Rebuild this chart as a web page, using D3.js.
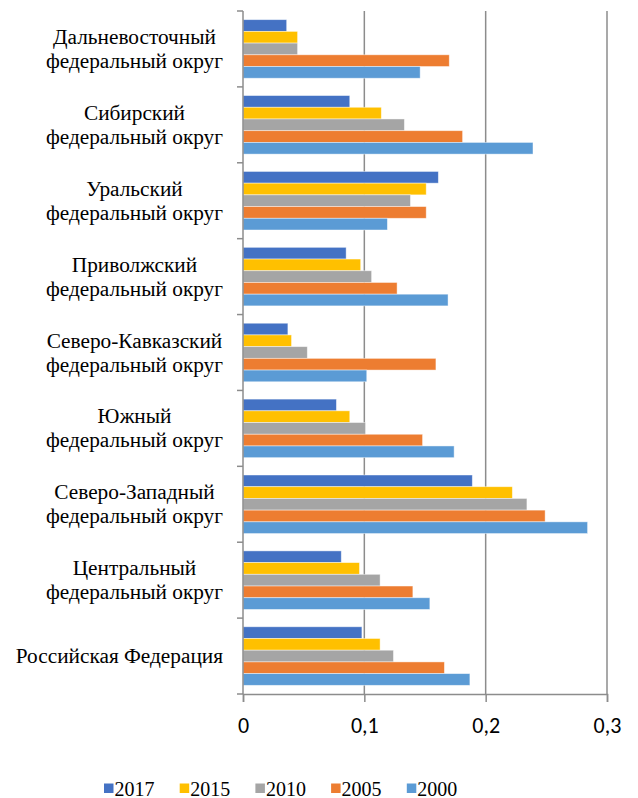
<!DOCTYPE html>
<html>
<head>
<meta charset="utf-8">
<script src="https://cdn.jsdelivr.net/npm/d3@7"></script>
<style>
  html, body { margin: 0; padding: 0; background: #fff; }
  svg { display: block; }
</style>
</head>
<body>
<svg id="chart" width="638" height="798"></svg>
<script>
// Federal districts, listed top to bottom
const categories = [
  "Дальневосточный федеральный округ",
  "Сибирский федеральный округ",
  "Уральский федеральный округ",
  "Приволжский федеральный округ",
  "Северо-Кавказский федеральный округ",
  "Южный федеральный округ",
  "Северо-Западный федеральный округ",
  "Центральный федеральный округ",
  "Российская Федерация"
];

// Label lines for each category
const labelLines = [
  ["Дальневосточный", "федеральный округ"],
  ["Сибирский", "федеральный округ"],
  ["Уральский", "федеральный округ"],
  ["Приволжский", "федеральный округ"],
  ["Северо-Кавказский", "федеральный округ"],
  ["Южный", "федеральный округ"],
  ["Северо-Западный", "федеральный округ"],
  ["Центральный", "федеральный округ"],
  ["Российская Федерация"]
];

const seriesNames = ["2017", "2015", "2010", "2005", "2000"];
const seriesColors = ["#4472C4", "#FFC000", "#A5A5A5", "#ED7D31", "#5B9BD5"];

const values2017 = [0.036, 0.088, 0.161, 0.085, 0.037, 0.077, 0.189, 0.081, 0.098];
const values2015 = [0.045, 0.114, 0.151, 0.097, 0.040, 0.088, 0.222, 0.096, 0.113];
const values2010 = [0.045, 0.133, 0.138, 0.106, 0.053, 0.101, 0.234, 0.113, 0.124];
const values2005 = [0.170, 0.181, 0.151, 0.127, 0.159, 0.148, 0.249, 0.140, 0.166];
const values2000 = [0.146, 0.239, 0.119, 0.169, 0.102, 0.174, 0.284, 0.154, 0.187];

const seriesValues = [values2017, values2015, values2010, values2005, values2000];

const xTicks = [0, 0.1, 0.2, 0.3];
const xTickLabels = ["0", "0,1", "0,2", "0,3"];

const serif = "Liberation Serif";
const sans = "Carlito";

const svg = d3.select("#chart");

const plot = { left: 243, right: 607, top: 11, bottom: 694 };
const gridColor = "#8c8c8c";

const x = d3.scaleLinear().domain([0, 0.3]).range([plot.left, plot.right]);
const y = d3.scaleBand().domain(categories).range([plot.top, plot.bottom]).padding(0);
const ySeries = d3.scaleBand().domain(seriesNames).range([0, y.step()])
  .paddingInner(0).paddingOuter(0.74);

// vertical gridlines
svg.append("g").selectAll("line")
  .data(xTicks.slice(1))
  .join("line")
  .attr("x1", d => x(d)).attr("x2", d => x(d))
  .attr("y1", plot.top).attr("y2", plot.bottom)
  .attr("stroke", gridColor).attr("stroke-width", 1.5);

// bars
const groups = svg.append("g").selectAll("g")
  .data(categories)
  .join("g")
  .attr("transform", d => `translate(0,${y(d)})`);

groups.selectAll("rect")
  .data((c, ci) => seriesNames.map((s, si) => ({ s, si, v: seriesValues[si][ci] })))
  .join("rect")
  .attr("x", x(0))
  .attr("y", d => ySeries(d.s))
  .attr("width", d => x(d.v) - x(0))
  .attr("height", ySeries.bandwidth())
  .attr("fill", d => seriesColors[d.si])
  .attr("stroke", "rgba(255,255,255,0.55)")
  .attr("stroke-width", 0.8);

// left axis line with tick marks between categories
svg.append("line")
  .attr("x1", plot.left).attr("x2", plot.left)
  .attr("y1", plot.top).attr("y2", plot.bottom)
  .attr("stroke", gridColor).attr("stroke-width", 1.5);

const catBounds = categories.map(c => y(c)).concat([plot.bottom]);
svg.append("g").selectAll("line")
  .data(catBounds)
  .join("line")
  .attr("x1", plot.left - 6).attr("x2", plot.left)
  .attr("y1", d => d).attr("y2", d => d)
  .attr("stroke", gridColor).attr("stroke-width", 1.5);

// bottom axis
const xAxis = d3.axisBottom(x)
  .tickValues(xTicks)
  .tickFormat((d, i) => xTickLabels[i])
  .tickSize(8);

const xg = svg.append("g")
  .attr("transform", `translate(0,${plot.bottom})`)
  .call(xAxis);
xg.select(".domain").attr("stroke", gridColor).attr("stroke-width", 1.5);
xg.selectAll(".tick line").attr("stroke", gridColor).attr("stroke-width", 1.5);
xg.selectAll(".tick text")
  .attr("fill", "#000")
  .attr("font-family", sans)
  .attr("font-size", 22)
  .attr("y", 39)
  .attr("dy", 0);

// category labels: lines centred within a block that is right-aligned to the axis
const labelRight = 223;
const lineH = 24;
const labelG = svg.append("g");

categories.forEach((c, i) => {
  const lines = labelLines[i];
  const g = labelG.append("g");
  const texts = lines.map(t => g.append("text")
    .attr("font-family", serif)
    .attr("font-size", 21.3)
    .attr("fill", "#000")
    .text(t));
  const maxW = d3.max(texts, t => t.node().getComputedTextLength());
  const cx = labelRight - maxW / 2;
  const cy = y(c) + y.bandwidth() / 2;
  const firstBase = cy - ((lines.length - 1) * lineH) / 2 + 7;
  texts.forEach((t, k) => {
    t.attr("x", cx).attr("y", firstBase + k * lineH).attr("text-anchor", "middle");
  });
});

// legend
const legendStart = 104;
const legendStep = 75.7;
const legend = svg.append("g");

seriesNames.forEach((s, i) => {
  const gx = legendStart + i * legendStep;
  legend.append("rect")
    .attr("x", gx).attr("y", 783.5)
    .attr("width", 9.5).attr("height", 9.5)
    .attr("fill", seriesColors[i]);
  legend.append("text")
    .attr("x", gx + 10.5).attr("y", 795.5)
    .attr("font-family", serif)
    .attr("font-size", 20)
    .attr("fill", "#000")
    .text(s);
});
</script>
</body>
</html>
